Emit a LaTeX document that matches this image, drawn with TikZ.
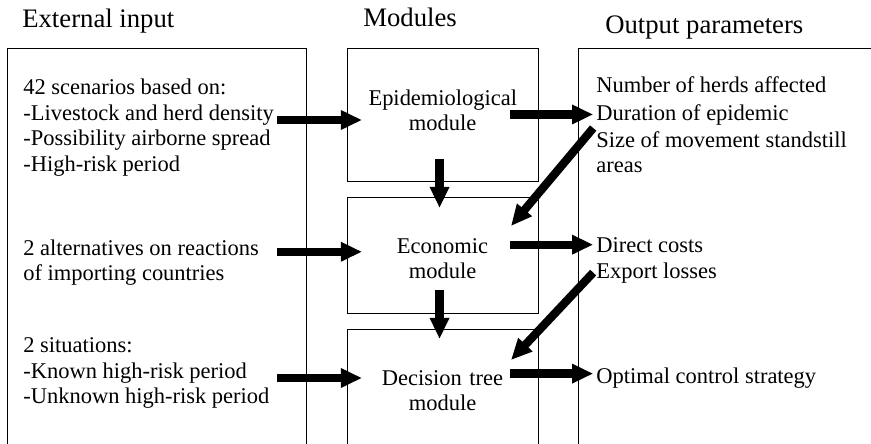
\documentclass[tikz,border=0pt]{standalone}
\usepackage{fontspec}
\setmainfont{Liberation Serif}
\usetikzlibrary{arrows.meta}

\begin{document}
\begin{tikzpicture}[txt/.style={inner sep=2pt,anchor=base west,font=\fontsize{16}{18.2}\selectfont},
  ttl/.style={inner sep=2pt,anchor=base west,font=\fontsize{19}{22}\selectfont},
  box/.style={draw,line width=0.9pt,inner sep=0pt,anchor=north west},
  mod/.style={inner sep=0pt,anchor=base,text width=3.7cm,align=center,font=\fontsize{16}{18.2}\selectfont},
  fat/.style={line width=5.9pt,-{Triangle[length=15pt,width=13pt]}}]

\useasboundingbox (0,0) rectangle (21.775,11.075);
\clip (0,0) rectangle (21.775,11.075);

\node[ttl] (extin) at (0.48,10.375) {External input};
\node[ttl] (modtl) at (9.005,10.408) {Modules};
\node[ttl] (outtl) at (15.055,10.24) {Output parameters};

\node[box,minimum width=7.475cm,minimum height=10.5cm] (inbox) at (0.175,9.875) {};
\node[box,minimum width=4.775cm,minimum height=3.325cm] (epibox) at (8.675,9.875) {};
\node[box,minimum width=4.775cm,minimum height=2.9cm] (econbox) at (8.675,6.15) {};
\node[box,minimum width=4.775cm,minimum height=4cm] (decbox) at (8.675,2.85) {};
\node[box,minimum width=10cm,minimum height=10.5cm] (outbox) at (14.45,9.875) {};

\node[txt] (scen) at (0.505,8.725) {42 scenarios based on:};
\node[txt] (liv) at (0.505,8.075) {-Livestock and herd density};
\node[txt] (air) at (0.505,7.45) {-Possibility airborne spread};
\node[txt] (hrp) at (0.505,6.8) {-High-risk period};
\node[txt] (alt) at (0.505,4.7) {2 alternatives on reactions};
\node[txt] (imp) at (0.505,4.075) {of importing countries};
\node[txt] (sit) at (0.505,2.275) {2 situations:};
\node[txt] (known) at (0.505,1.625) {-Known high-risk period};
\node[txt] (unknown) at (0.505,1.0) {-Unknown high-risk period};

\node[mod] (epi) at (11.0625,8.45) {Epidemiological\\module};
\node[mod] (econ) at (11.0625,4.75) {Economic\\module};
\node[mod] (dec) at (11.0625,1.45) {Decision tree\\module};

\node[txt] (herds) at (14.83,8.75) {Number of herds affected};
\node[txt] (dur) at (14.83,8.075) {Duration of epidemic};
\node[txt] (size) at (14.83,7.4) {Size of movement standstill};
\node[txt] (areas) at (14.83,6.775) {areas};
\node[txt] (direct) at (14.83,4.775) {Direct costs};
\node[txt] (export) at (14.83,4.125) {Export losses};
\node[txt] (optimal) at (14.83,1.5) {Optimal control strategy};

\coordinate (tip1) at (12.775,5.425);
\coordinate (tip2) at (12.775,2.075);

\draw[fat] (liv.base east) -- ([xshift=0.375cm]liv.base east -| epibox.west);
\draw[fat] (alt.mid -| liv.east) -- ([xshift=0.375cm]alt.mid -| econbox.west);
\draw[fat] (known.base -| liv.east) -- ([xshift=0.375cm]known.base -| decbox.west);
\draw[fat] ([xshift=-0.725cm]dur.west -| epibox.east) -- (dur.west);
\draw[fat] ([xshift=-0.725cm]direct.west -| econbox.east) -- (direct.west);
\draw[fat] ([xshift=-0.725cm,yshift=0.1cm]optimal.west -| decbox.east) -- ([yshift=0.1cm]optimal.west);
\draw[fat] ([xshift=-0.09cm,yshift=0.575cm]epibox.south) -- ([xshift=-0.09cm,yshift=-0.275cm]econbox.north);
\draw[fat] ([xshift=-0.09cm,yshift=0.6cm]econbox.south) -- ([xshift=-0.09cm,yshift=-0.25cm]decbox.north);
\draw[fat] (size.north west) -- (tip1);
\draw[fat] (export.west) -- (tip2);
\end{tikzpicture}
\end{document}
